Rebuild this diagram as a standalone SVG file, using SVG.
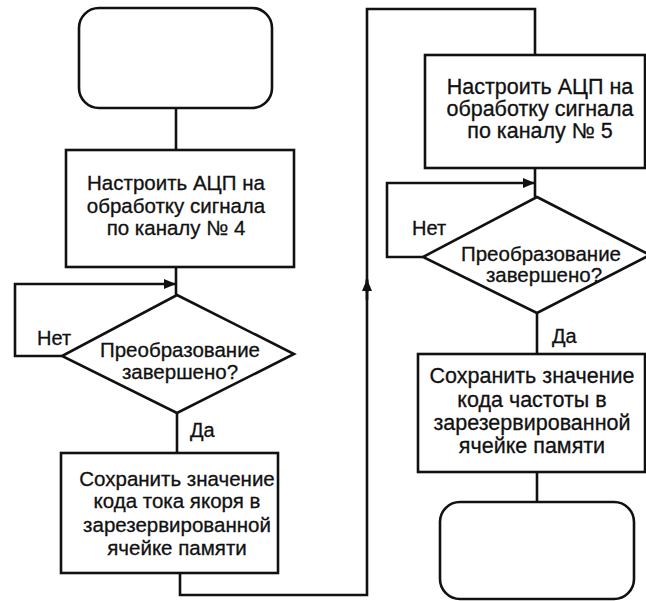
<svg xmlns="http://www.w3.org/2000/svg" width="646" height="601" viewBox="0 0 646 601">
  <style>
    .shape { fill: #fff; stroke: #111; stroke-width: 2.6; }
    .line { fill: none; stroke: #111; stroke-width: 2.6; }
    text { font-family: "Liberation Sans", Arial, sans-serif; fill: #111; stroke: #111; stroke-width: 0.3; text-anchor: middle; }
    .t { font-size: 20.5px; }
    .tr { font-size: 21.5px; }
    .lbl { font-size: 20px; text-anchor: start; }
  </style>
  <defs>
    <marker id="arr" viewBox="0 0 12 10" refX="12" refY="5" markerWidth="12" markerHeight="10" markerUnits="userSpaceOnUse" orient="auto">
      <path d="M0,0 L12,5 L0,10 Z" fill="#111"/>
    </marker>
  </defs>
  <rect width="646" height="601" fill="#fff"/>

  <!-- flow lines -->
  <g id="connectors">
    <path class="line" d="M176,108 V150"/>
    <path class="line" d="M176,267 V295"/>
    <path class="line" d="M62,356 H15 V284 H176" marker-end="url(#arr)"/>
    <path class="line" d="M177,413 V453"/>
    <path class="line" d="M180,573 V595 H367 V280"/>
    <path class="line" d="M367,292 V9 H535 V55"/>
    <path class="line" d="M367,300 V279" marker-end="url(#arr)"/>
    <path class="line" d="M535,168 V197"/>
    <path class="line" d="M423,257 H387 V183 H535" marker-end="url(#arr)"/>
    <path class="line" d="M537,313 V354"/>
    <path class="line" d="M537,472 V502"/>
  </g>

  <g id="start">
    <rect class="shape" x="79" y="8" width="193" height="100" rx="20"/>
  </g>

  <g id="setup-ch4">
    <rect class="shape" x="66" y="150" width="228" height="117"/>
    <text class="t" x="176" y="190">Настроить АЦП на</text>
    <text class="t" x="176" y="213">обработку сигнала</text>
    <text class="t" x="176" y="235">по каналу № 4</text>
  </g>

  <g id="check-ch4">
    <polygon class="shape" points="177,295 294,354 177,413 62,356"/>
    <text class="t" x="180" y="357">Преобразование</text>
    <text class="t" x="180" y="379">завершено?</text>
    <text class="lbl" x="37" y="345">Нет</text>
    <text class="lbl" x="190" y="437">Да</text>
  </g>

  <g id="store-current">
    <rect class="shape" x="61" y="453" width="217" height="120"/>
    <text class="t" x="177" y="486">Сохранить значение</text>
    <text class="t" x="177" y="508">кода тока якоря в</text>
    <text class="t" x="177" y="532">зарезервированной</text>
    <text class="t" x="177" y="555">ячейке памяти</text>
  </g>

  <g id="setup-ch5">
    <rect class="shape" x="425" y="55" width="220" height="113"/>
    <text class="tr" x="540" y="94">Настроить АЦП на</text>
    <text class="tr" x="540" y="116">обработку сигнала</text>
    <text class="tr" x="540" y="138">по каналу № 5</text>
  </g>

  <g id="check-ch5">
    <polygon class="shape" points="537,197 650,255 537,313 423,257"/>
    <text class="t" x="541" y="261">Преобразование</text>
    <text class="t" x="544" y="282">завершено?</text>
    <text class="lbl" x="412" y="235">Нет</text>
    <text class="lbl" x="552" y="343">Да</text>
  </g>

  <g id="store-frequency">
    <rect class="shape" x="418" y="354" width="227" height="118"/>
    <text class="tr" x="532" y="383">Сохранить значение</text>
    <text class="tr" x="532" y="407">кода частоты в</text>
    <text class="tr" x="532" y="430">зарезервированной</text>
    <text class="tr" x="532" y="453">ячейке памяти</text>
  </g>

  <g id="end">
    <rect class="shape" x="440" y="502" width="194" height="97" rx="20"/>
  </g>
</svg>
